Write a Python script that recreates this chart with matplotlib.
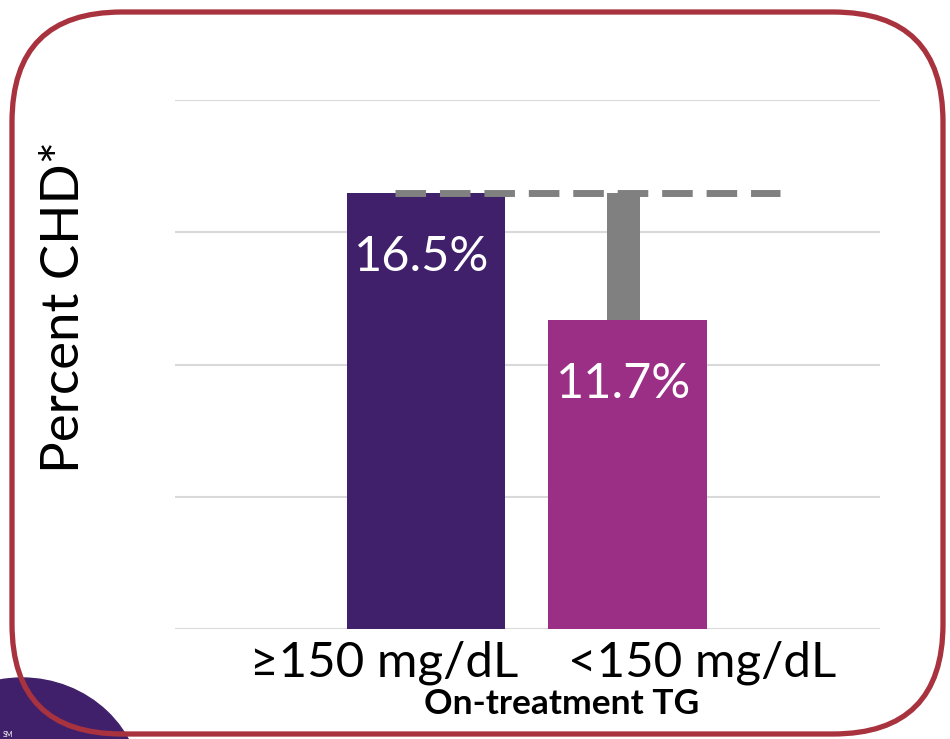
import matplotlib.pyplot as plt
from matplotlib.patches import FancyBboxPatch, Ellipse

# Datos del gráfico
categorias = ["\u2265150 mg/dL", "<150 mg/dL"]
porcentajes = [16.5, 11.7]
colores = ["#41206B", "#9B2F86"]
etiquetas = ["16.5%", "11.7%"]

plt.rcParams['font.family'] = ['Lato', 'DejaVu Sans']

fig = plt.figure(figsize=(9.5, 7.39), dpi=100)

# Capa de fondo: marco redondeado y forma morada
fondo = fig.add_axes([0, 0, 1, 1])
fondo.set_xlim(0, 950)
fondo.set_ylim(739, 0)
fondo.axis("off")
fondo.add_patch(Ellipse((22, 792), 240, 228, color="#41206B", zorder=1))
fondo.text(3, 738, "SM", color="white", fontsize=5, va="bottom", ha="left", zorder=2)
marco = FancyBboxPatch((12, 12), 931, 722, boxstyle="round,pad=0,rounding_size=110",
                       fill=False, edgecolor="#A8333F", linewidth=3.8, zorder=3)
fondo.add_patch(marco)

# Gráfico de barras
ax = fig.add_axes([175 / 950, 1 - 629 / 739, 705 / 950, 529 / 739])
ax.set_zorder(2)
ax.patch.set_alpha(0)
x = [0, 1]
ax.bar(x, porcentajes, width=0.785, color=colores, zorder=2)

# Diferencia entre grupos
ax.bar(0.98, porcentajes[0] - porcentajes[1], bottom=porcentajes[1], width=0.164,
       color="#808080", zorder=2)
ax.plot([-0.154, 1.757], [porcentajes[0], porcentajes[0]], color="#808080",
        linewidth=5, dashes=(4.4, 2.0), zorder=3)

for xi, p, txt in zip(x, porcentajes, etiquetas):
    ax.text(xi - 0.02, p - 2.45, txt, color="white", fontsize=35,
            ha="center", va="center", zorder=4)

ax.set_xlim(-1.246, 2.253)
ax.set_ylim(0, 20)
ax.set_yticks([0, 5, 10, 15, 20])
ax.yaxis.grid(True, color="#D9D9D9", linewidth=1.5, zorder=0)
ax.tick_params(axis="y", left=False, labelleft=False)
ax.tick_params(axis="x", bottom=False, labelsize=35.5, pad=5)
# etiquetas separadas hacia afuera de cada barra
ax.set_xticks([-0.21, 1.37])
ax.set_xticklabels(categorias)
for s in ax.spines.values():
    s.set_visible(False)

ax.set_xlabel("On-treatment TG", fontsize=25.5, fontweight="bold")
ax.xaxis.set_label_coords(0.548, -0.112)
fig.text(65 / 950, 1 - 307 / 739, "Percent CHD*", rotation=90, fontsize=38,
         ha="center", va="center")

plt.savefig("out.png", dpi=100)
